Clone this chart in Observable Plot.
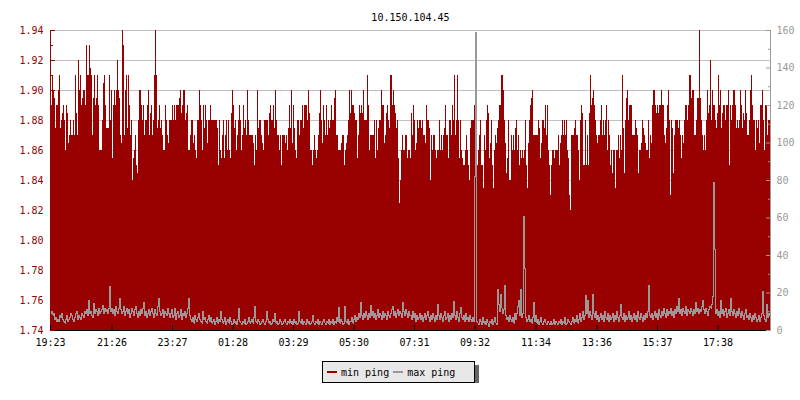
<!DOCTYPE html>
<html>
<head>
<meta charset="utf-8">
<script src="https://cdn.jsdelivr.net/npm/d3@7"></script>
<script src="https://cdn.jsdelivr.net/npm/@observablehq/plot@0.6"></script>
<style>
  html, body { margin: 0; padding: 0; background: #fff; }
  #chart svg { display: block; }
  #legend {
    margin-left: 322px; margin-top: 6px; width: 151px; height: 20px;
    border: 1px solid #000; background: #e8e8e8; box-shadow: 4px 4px 0 #666;
    font: 10px "DejaVu Sans Mono", monospace; color: #000;
    display: flex; align-items: center; box-sizing: content-box;
  }
  #legend .sw { display: inline-block; width: 10px; height: 2px; margin: 0 4px 0 4px; }
  #legend .lab { margin-right: 2px; }
</style>
</head>
<body>
<div id="chart"></div>
<div id="legend">
  <span class="sw" style="background:#990000;margin-left:4px"></span><span class="lab">min ping</span>
  <span class="sw" style="background:#999999;margin-left:2px"></span><span class="lab">max ping</span>
</div>
<script>
const title = "10.150.104.45";
const seriesNames = ["min ping", "max ping"];
const startLabel = "19:23";
const stepMinutes = 2;
const xTickLabels = ["19:23","21:26","23:27","01:28","03:29","05:30","07:31","09:32","11:34","13:36","15:37","17:38"];
const leftTicks = [1.74,1.76,1.78,1.80,1.82,1.84,1.86,1.88,1.90,1.92,1.94];
const leftMinorTicks = [1.75,1.77,1.79,1.81,1.83,1.85,1.87,1.89,1.91,1.93];
const rightTicks = [0,20,40,60,80,100,120,140,160];
const rightMinorTicks = [10,30,50,70,90,110,130,150];

// min ping (left axis), one value per 2-minute sample
const minPing = [
1.885,1.89,1.91,1.90,1.895,1.875,1.89,1.89,1.90,1.91,
1.875,1.88,1.885,1.89,1.88,1.86,1.89,1.885,1.865,1.87,
1.88,1.87,1.87,1.88,1.87,1.91,1.885,1.87,1.92,1.90,
1.91,1.89,1.895,1.90,1.90,1.89,1.93,1.91,1.91,1.93,
1.915,1.91,1.87,1.895,1.91,1.89,1.895,1.91,1.89,1.86,
1.86,1.86,1.88,1.905,1.91,1.89,1.875,1.875,1.875,1.91,
1.88,1.90,1.855,1.89,1.90,1.89,1.90,1.92,1.90,1.895,
1.87,1.865,1.94,1.93,1.87,1.90,1.91,1.875,1.91,1.89,
1.87,1.88,1.84,1.855,1.86,1.87,1.85,1.845,1.88,1.90,
1.90,1.89,1.88,1.89,1.87,1.88,1.88,1.89,1.90,1.87,
1.885,1.89,1.87,1.88,1.91,1.94,1.91,1.875,1.88,1.89,
1.875,1.88,1.87,1.86,1.86,1.89,1.88,1.87,1.865,1.88,
1.88,1.88,1.89,1.88,1.89,1.88,1.89,1.89,1.89,1.895,
1.90,1.885,1.89,1.90,1.90,1.88,1.885,1.89,1.86,1.86,
1.87,1.88,1.88,1.865,1.87,1.86,1.855,1.88,1.88,1.90,
1.89,1.88,1.86,1.89,1.875,1.89,1.88,1.865,1.88,1.88,
1.89,1.88,1.88,1.88,1.88,1.88,1.88,1.875,1.85,1.88,
1.86,1.855,1.87,1.88,1.855,1.87,1.88,1.86,1.88,1.86,
1.855,1.885,1.90,1.89,1.875,1.88,1.86,1.87,1.88,1.89,
1.88,1.86,1.87,1.89,1.875,1.88,1.87,1.90,1.88,1.87,
1.87,1.87,1.87,1.865,1.85,1.87,1.86,1.90,1.875,1.88,
1.88,1.87,1.865,1.86,1.88,1.88,1.88,1.88,1.87,1.885,
1.89,1.88,1.88,1.89,1.875,1.90,1.88,1.87,1.87,1.86,
1.87,1.85,1.87,1.87,1.87,1.865,1.87,1.86,1.875,1.89,
1.875,1.90,1.865,1.89,1.875,1.86,1.855,1.88,1.88,1.87,
1.88,1.88,1.89,1.875,1.89,1.89,1.89,1.88,1.90,1.885,
1.86,1.86,1.85,1.86,1.87,1.86,1.855,1.86,1.87,1.885,
1.90,1.88,1.865,1.89,1.88,1.87,1.89,1.87,1.88,1.875,
1.88,1.89,1.88,1.88,1.895,1.90,1.87,1.87,1.86,1.86,
1.86,1.865,1.87,1.87,1.85,1.86,1.865,1.87,1.88,1.90,
1.885,1.90,1.89,1.89,1.885,1.88,1.88,1.855,1.87,1.89,
1.885,1.89,1.885,1.90,1.88,1.88,1.88,1.91,1.89,1.86,
1.87,1.87,1.87,1.87,1.88,1.855,1.88,1.86,1.875,1.88,
1.88,1.90,1.89,1.89,1.865,1.87,1.885,1.89,1.88,1.875,
1.91,1.91,1.89,1.90,1.89,1.885,1.875,1.88,1.855,1.825,
1.84,1.86,1.87,1.86,1.86,1.87,1.87,1.855,1.86,1.86,
1.855,1.885,1.87,1.89,1.88,1.86,1.865,1.88,1.875,1.88,
1.88,1.875,1.88,1.87,1.87,1.865,1.89,1.88,1.88,1.875,
1.84,1.87,1.86,1.87,1.87,1.86,1.855,1.86,1.86,1.88,
1.86,1.87,1.86,1.87,1.875,1.89,1.87,1.87,1.855,1.88,
1.88,1.87,1.89,1.88,1.91,1.87,1.88,1.91,1.88,1.855,
1.88,1.86,1.855,1.85,1.85,1.86,1.87,1.86,1.85,1.84,
1.875,1.88,1.88,1.88,1.89,1.87,1.865,1.85,1.86,1.87,
1.88,1.85,1.85,1.835,1.87,1.86,1.88,1.89,1.885,1.855,
1.865,1.88,1.85,1.835,1.86,1.87,1.865,1.875,1.88,1.89,
1.89,1.91,1.91,1.90,1.88,1.865,1.845,1.855,1.88,1.84,
1.84,1.87,1.86,1.87,1.86,1.875,1.88,1.86,1.87,1.85,
1.86,1.855,1.86,1.855,1.86,1.88,1.85,1.835,1.865,1.88,
1.89,1.895,1.90,1.87,1.87,1.87,1.87,1.87,1.88,1.875,
1.855,1.865,1.88,1.88,1.875,1.89,1.87,1.89,1.86,1.85,
1.83,1.85,1.86,1.86,1.855,1.86,1.86,1.86,1.87,1.85,
1.865,1.87,1.88,1.87,1.88,1.87,1.88,1.86,1.855,1.83,
1.82,1.87,1.87,1.87,1.875,1.88,1.87,1.87,1.86,1.84,
1.88,1.89,1.885,1.85,1.85,1.88,1.85,1.87,1.85,1.885,
1.91,1.89,1.895,1.90,1.89,1.88,1.87,1.865,1.87,1.87,
1.88,1.89,1.87,1.88,1.87,1.88,1.89,1.86,1.88,1.87,
1.85,1.86,1.845,1.86,1.86,1.835,1.86,1.86,1.87,1.855,
1.87,1.86,1.91,1.875,1.845,1.88,1.895,1.90,1.88,1.89,
1.89,1.89,1.87,1.87,1.87,1.88,1.875,1.87,1.845,1.86,
1.86,1.865,1.88,1.875,1.87,1.865,1.86,1.86,1.88,1.855,
1.87,1.865,1.89,1.90,1.90,1.89,1.885,1.89,1.885,1.89,
1.89,1.90,1.89,1.89,1.87,1.865,1.875,1.89,1.90,1.88,
1.83,1.88,1.875,1.845,1.87,1.88,1.88,1.88,1.875,1.88,
1.87,1.855,1.87,1.865,1.88,1.89,1.89,1.88,1.89,1.91,
1.91,1.895,1.90,1.90,1.87,1.87,1.88,1.895,1.895,1.94,
1.895,1.88,1.87,1.86,1.87,1.86,1.88,1.90,1.885,1.89,
1.92,1.88,1.90,1.89,1.89,1.88,1.875,1.885,1.91,1.89,
1.90,1.875,1.885,1.89,1.89,1.88,1.89,1.89,1.90,1.85,
1.89,1.88,1.89,1.90,1.90,1.89,1.875,1.88,1.875,1.88,
1.90,1.89,1.875,1.885,1.88,1.90,1.885,1.87,1.87,1.88,
1.90,1.91,1.89,1.88,1.88,1.86,1.88,1.875,1.88,1.865,
1.89,1.89,1.90,1.88,1.86,1.89,1.89,1.87,1.88,1.88
];

// max ping (right axis), same samples
const maxPing = [
9,10,8,9,6,7,5,6,5,8, 7,9,6,5,4,6,8,5,6,7, 9,8,6,5,7,9,10,6,8,7, 6,9,8,7,10,9,11,8,16,9, 10,8,7,14.6,9,11,10,8,12,9, 10,11,13.3,9,12,10,11,9,12,23.5,
10,12,9,11,8,13,10,9,12,17, 11,9,10,13,8,10,12,9,11,7, 9,12,10,8,11,13,9,7,10,8, 11,9,12,14.8,8,10,7,9,11,8, 10,12,9,7,11,9,8,13,17,10, 8,9,11,7,10,9,8,12,9,7,
9,11,7,8,12,6,9,10,7,8, 11,6,9,8,10,7,9,12,17,8, 6,5,7,4,8,6,5,7,9,6, 5,4,10,6,7,5,4,6,8,5, 7,4,5,6,3,5,7,4,6,5, 10,6,4,5,7,3,5,6,4,7,
5,3,4,6,4,5,3,6,11.5,5, 4,3,5,4,6,3,4,5,7,4, 5,6,4,7,13,5,4,6,5,3, 4,5,6,4,3,5,10,6,4,5, 3,4,6,5,9,4,5,3,4,6, 5,3,4,5,6,4,3,5,4,6,
4,5,3,6,4,5,3,4,10,5, 4,6,3,5,4,3,6,4,5,3, 4,5,8,4,3,5,4,6,3,5, 4,3,5,6,4,3,5,4,6,3, 5,4,6,3,5,4,7,5,12.4,4, 6,5,3,4,12.8,5,4,6,3,5,
5,7,4,6,8,5,7,6,9,7, 14.8,8,6,9,7,10,8,6,9,7, 13.3,8,10,7,9,6,8,11,7,9, 8,6,10,7,9,8,6,10,8,7, 9,11,12.8,8,10,7,9,11,8,10, 9,7,14.8,10,8,11,9,7,10,8,
8,6,10,7,9,5,8,6,7,9, 6,8,5,7,9,6,8,10,7,5, 8,6,9,7,5,8,6,13.9,8,6, 9,7,5,8,10,6,7,9,5,8, 6,9,7,15.6,8,6,10,7,5,9, 12.4,7,6,8,5,9,6,7,5,8,
6,5,7,5,82,159,5,4,3,6, 5,3,7,4,5,3,6,4,2,5, 4,6,3,5,7,4,3,22,14,10, 19,12,9,11,24,8,6,7,5,8, 6,5,7,4,9,6,9,13,16,8, 22,7,9,61,33,7,5,6,8,5,
6,4,7,15,5,8,4,6,3,5, 7,4,3,5,6,4,3,5,4,3, 5,3,4,6,3,5,4,3,5,4, 6,3,5,4,7,3,4,6,5,4, 3,5,7,4,6,5,8,4,6,9, 5,7,10,6,8,18.7,9,16,7,10,
8,6,19,9,7,10,6,8,5,7, 9,6,8,5,10,7,6,9,5,8, 6,7,9,5,8,6,10,7,5,8, 13.9,7,6,9,5,8,6,7,10,6, 8,5,7,9,6,8,5,10,7,6, 9,7,5,8,6,9,7,10,24,8,
7,9,6,8,10,7,9,6,11,8, 7,10,8,12,9,7,11,8,10,9, 12,8,10,7,11,9,13,10,17,9, 11,8,12,10,9,13,8,11,10,9, 12,10,8,11,9,15,10,12,9,11, 10,13,16,11,9,12,10,8,11,13,
12,14,18,79,43,9,11,8,10,7, 16,9,11,8,10,12,7,9,11,8, 17,10,8,11,9,7,10,8,12,9, 7,10,8,6,9,11,7,8,6,9, 7,5,8,6,9,7,5,6,8,5, 7,9,21,8,6,5,14,7,9,8
];

const RED = "#990000", GRAY = "#999999";
const leftDomain = [leftTicks[0], leftTicks[leftTicks.length - 1]];
const rightDomain = [rightTicks[0], rightTicks[rightTicks.length - 1]];
const toLeft = v => leftDomain[0] + (v - rightDomain[0]) / (rightDomain[1] - rightDomain[0]) * (leftDomain[1] - leftDomain[0]);
const fromLeft = y => Math.round(rightDomain[0] + (y - leftDomain[0]) / (leftDomain[1] - leftDomain[0]) * (rightDomain[1] - rightDomain[0]));

const [sh, sm] = startLabel.split(":").map(Number);
const t0 = new Date(2024, 0, 1, sh, sm);
const stepMs = stepMinutes * 60000;
const tEnd = new Date(+t0 + minPing.length * stepMs);
const xTicks = xTickLabels.map(s => {
  const [h, m] = s.split(":").map(Number);
  const off = ((h * 60 + m) - (sh * 60 + sm) + 1440) % 1440;
  return new Date(+t0 + off * 60000);
});

const minData = minPing.map((v, i) => ({t: new Date(+t0 + i * stepMs), v}));
minData.push({t: tEnd, v: minPing[minPing.length - 1]});
const maxData = maxPing.map((v, i) => ({t: new Date(+t0 + i * stepMs), y: toLeft(v)}));
maxData.push({t: tEnd, y: toLeft(maxPing[maxPing.length - 1])});

const fmt = d3.timeFormat("%H:%M");

const chart = Plot.plot({
  width: 800,
  height: 355,
  marginLeft: 50,
  marginRight: 30,
  marginTop: 30,
  marginBottom: 25,
  style: {fontFamily: "'DejaVu Sans Mono', monospace", fontSize: "10px", background: "#fff", overflow: "visible"},
  x: {type: "time", domain: [t0, tEnd], axis: null},
  y: {domain: leftDomain, axis: null},
  marks: [
    Plot.ruleY(leftTicks, {stroke: "#c0c0c0", strokeWidth: 1}),
    Plot.areaY(minData, {x: "t", y1: leftDomain[0], y2: "v", curve: "step-after", fill: RED, shapeRendering: "crispEdges"}),
    Plot.line(maxData, {x: "t", y: "y", curve: "step-after", stroke: GRAY, strokeWidth: 1, shapeRendering: "crispEdges"}),
    Plot.ruleX([t0], {stroke: RED}),
    Plot.ruleX([tEnd], {stroke: GRAY}),
    Plot.ruleY([leftDomain[0]], {stroke: "#000"}),
    Plot.axisY(leftTicks, {anchor: "left", tickSize: 0, tickPadding: 7, color: RED, tickFormat: d => d.toFixed(2), label: null}),
    Plot.axisY(leftTicks, {anchor: "left", tickSize: -5, fill: "none", stroke: RED, label: null}),
    Plot.axisY(leftMinorTicks, {anchor: "left", tickSize: -3, fill: "none", stroke: RED, label: null}),
    Plot.axisY(rightTicks.map(toLeft), {anchor: "right", tickSize: 0, tickPadding: 6, color: GRAY, tickFormat: fromLeft, label: null}),
    Plot.axisY(rightTicks.map(toLeft), {anchor: "right", tickSize: -5, fill: "none", stroke: GRAY, label: null}),
    Plot.axisY(rightMinorTicks.map(toLeft), {anchor: "right", tickSize: -3, fill: "none", stroke: GRAY, label: null}),
    Plot.axisX(xTicks, {anchor: "bottom", tickSize: 0, tickPadding: 8, color: "#000", tickFormat: fmt, label: null}),
    Plot.axisX(xTicks, {anchor: "bottom", tickSize: -5, fill: "none", stroke: "#000", label: null}),
    Plot.text([title], {frameAnchor: "top", dy: -17, fill: "#000", fontSize: 10})
  ]
});
document.getElementById("chart").appendChild(chart);
</script>
</body>
</html>
